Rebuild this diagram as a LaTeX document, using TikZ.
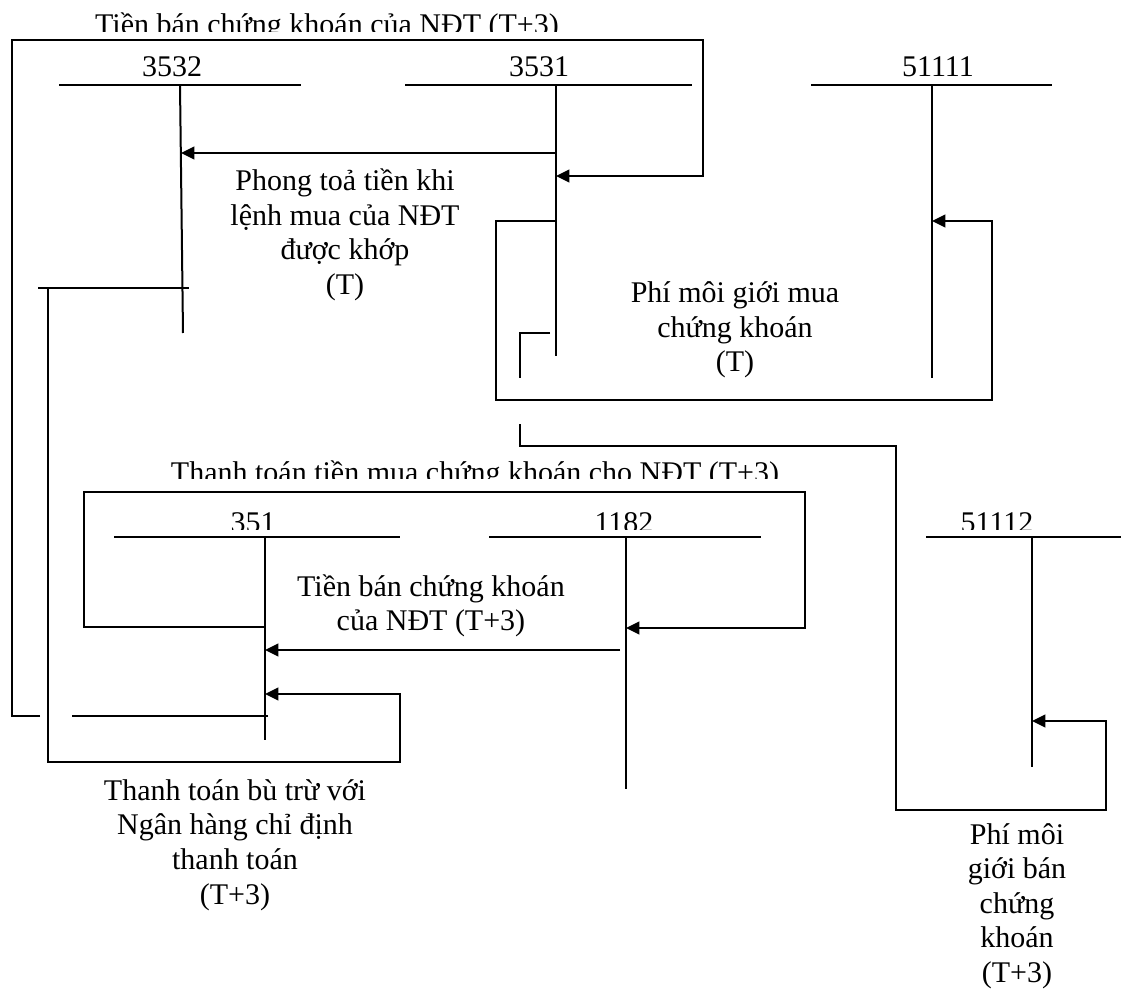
\documentclass[tikz,border=0pt]{standalone}
\usepackage{fontspec}
\setmainfont{Liberation Serif}
\usetikzlibrary{arrows.meta}
\newcommand\lblfont{\fontsize{22.5}{25.9}\selectfont}

\begin{document}
\begin{tikzpicture}[x=0.75pt,y=-0.75pt,
  wire/.style={line width=1.5pt, line cap=butt, line join=miter},
  tip/.style={wire, -{Triangle[length=10pt,width=9.5pt]}},
  lbl/.style={font=\lblfont, align=center, inner sep=0pt},
  acct/.style={font=\lblfont, inner sep=0pt, anchor=base}]
\useasboundingbox (0,0) rectangle (1121,991);
\fill[white] (0,0) rectangle (1121,991);

% ---- T-accounts: name / left / right / top x / bottom x / top y / bottom y
\foreach \n/\l/\r/\ct/\cb/\t/\b in {
  3532/59/301/180/183/85/333,
  3531/405/692/556/556/85/356,
  51111/811/1052/932/932/85/378,
  351/114/400/265/265/537/740,
  1182/489/761/626/626/537/789,
  51112/926/1121/1032/1032/537/767}{
  \draw[wire] (\l,\t) -- (\r,\t);
  \coordinate (v\n) at (\ct,\t);
  \coordinate (w\n) at (\cb,\b);
  \draw[wire] (v\n) -- (w\n);
}

% ---- account numbers (upper row)
\node[acct] (n3532)  at (172,77) {3532};
\node[acct] (n3531)  at (539,77) {3531};
\node[acct] (n51111) at (938,77) {51111};

% ---- account numbers (lower row), cut off just above the rule
\begin{scope}
  \clip (0,495) rectangle (1121,529);
  \node[acct] (n351)   at (253,532) {351};
  \node[acct] (n1182)  at (624,532) {1182};
  \node[acct] (n51112) at (997,532) {51112};
\end{scope}

% ---- captions over the two frames, cut off at the baseline
\begin{scope}
  \clip (0,0) rectangle (1121,32);
  \node[acct] (cap1) at (327,35) {Tiền bán chứng khoán của NĐT (T+3)};
\end{scope}
\begin{scope}
  \clip (0,450) rectangle (1121,478);
  \node[acct] (cap2) at (475,482) {Thanh toán tiền mua chứng khoán cho NĐT (T+3)};
\end{scope}

% ---- attachment points on the account verticals
\coordinate (a3531)  at (556,153);
\coordinate (b3532)  at (181,153);
\coordinate (c3531)  at (556,176);
\coordinate (d3531)  at (556,221);
\coordinate (d51111) at (932,221);
\coordinate (e3531)  at (550,333);
\coordinate (f51112) at (1032,721);
\coordinate (g351)   at (265,627);
\coordinate (g1182)  at (626,628);
\coordinate (h1182)  at (620,650);
\coordinate (h351)   at (265,650);
\coordinate (k3532)  at (189,288);
\coordinate (k351)   at (265,694);
\coordinate (m351)   at (268,716);

% 3531 -> 3532
\draw[tip] (a3531) -- (b3532);
% 351 -> 3531 via the outer frame
\draw[wire] (m351) -- (72,716);
\draw[tip] (40,716) -- (12,716) -- (12,40) -- (703,40) -- (703,176) -- (c3531);
% 3531 -> 51111
\draw[tip] (d3531) -- (496,221) -- (496,400) -- (992,400) -- (992,221) -- (d51111);
% 3531 -> 51112
\draw[wire] (e3531) -- (520,333) -- (520,378);
\draw[tip] (520,424) -- (520,446) -- (896,446) -- (896,810) -- (1106,810) -- (1106,721) -- (f51112);
% 3532 -> 351
\draw[wire] (38,288) -- (k3532);
\draw[tip] (48,288) -- (48,762) -- (400,762) -- (400,694) -- (k351);
% 351 -> 1182
\draw[tip] (g351) -- (84,627) -- (84,492) -- (805,492) -- (805,628) -- (g1182);
% 1182 -> 351
\draw[tip] (h1182) -- (h351);

% ---- descriptions
\node[lbl] (phongtoa) at (345,235) {Phong toả tiền khi\\lệnh mua của NĐT\\được khớp\\(T)};
\node[lbl] (phimua)   at (735,330) {Phí môi giới mua\\chứng khoán\\(T)};
\node[lbl] (tienban)  at (431,606) {Tiền bán chứng khoán\\của NĐT (T+3)};
\node[lbl] (buttru)   at (235,845) {Thanh toán bù trừ với\\Ngân hàng chỉ định\\thanh toán\\(T+3)};
\node[lbl] (phiban)   at (1017,906) {Phí môi\\giới bán\\chứng\\khoán\\(T+3)};
\end{tikzpicture}
\end{document}
